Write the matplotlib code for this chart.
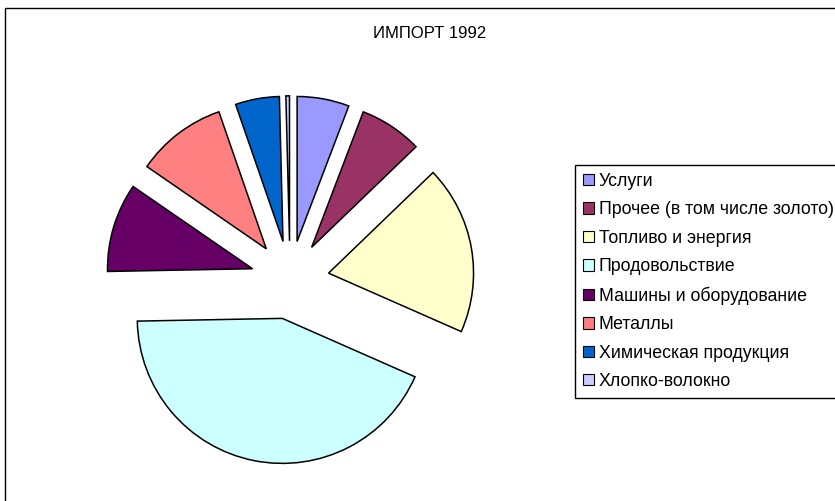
import matplotlib
matplotlib.use('Agg')
import matplotlib.pyplot as plt
from matplotlib.patches import Patch, Rectangle

plt.rcParams['font.family'] = ['Liberation Sans', 'DejaVu Sans']

# данные (доли, %)
labels = ['Услуги', 'Прочее (в том числе золото)', 'Топливо и энергия',
          'Продовольствие', 'Машины и оборудование', 'Металлы',
          'Химическая продукция', 'Хлопко-волокно']
values = [5.8, 7.0, 18.8, 43.1, 9.9, 10.1, 4.9, 0.4]
colors = ['#9999FF', '#993366', '#FFFFCC', '#CCFFFF',
          '#660066', '#FF8080', '#0066CC', '#CCCCFF']

W, H = 835, 501
fig = plt.figure(figsize=(W / 100, H / 100), dpi=100)

# pie: center (290, 280) px, radius 145 px
r_px = 145
lim = 1.4
side = 2 * lim * r_px
cx, cy = 290, H - 280
ax = fig.add_axes([(cx - side / 2) / W, (cy - side / 2) / H, side / W, side / H])

wedges, _ = ax.pie(values, colors=colors, startangle=90, counterclock=False,
                   explode=[0.27] * len(values),
                   wedgeprops=dict(edgecolor='black', linewidth=1.1))
ax.set_xlim(-lim, lim)
ax.set_ylim(-lim, lim)
ax.set_aspect('equal')
ax.axis('off')

# заголовок
fig.text(430 / W, 1 - 33 / H, 'ИМПОРТ 1992', ha='center', va='center', fontsize=12)

# рамка области диаграммы
fig.patches.append(Rectangle((4.5 / W, -0.1), 1.2, 1.1 - 8.5 / H, fill=False,
                             edgecolor='black', linewidth=1.0,
                             transform=fig.transFigure, figure=fig))

# легенда
handles = [Patch(facecolor=c, edgecolor='black', linewidth=0.8) for c in colors]
leg = fig.legend(handles, labels, loc='upper left',
                 bbox_to_anchor=(575 / W, 1 - 165 / H),
                 fontsize=12.8, frameon=True, fancybox=False, framealpha=1,
                 edgecolor='black', labelspacing=0.64, handlelength=0.6,
                 handleheight=0.6, handletextpad=0.3, borderpad=0.45,
                 borderaxespad=0)
leg.get_frame().set_linewidth(1.0)

fig.savefig('out.png', dpi=100)
